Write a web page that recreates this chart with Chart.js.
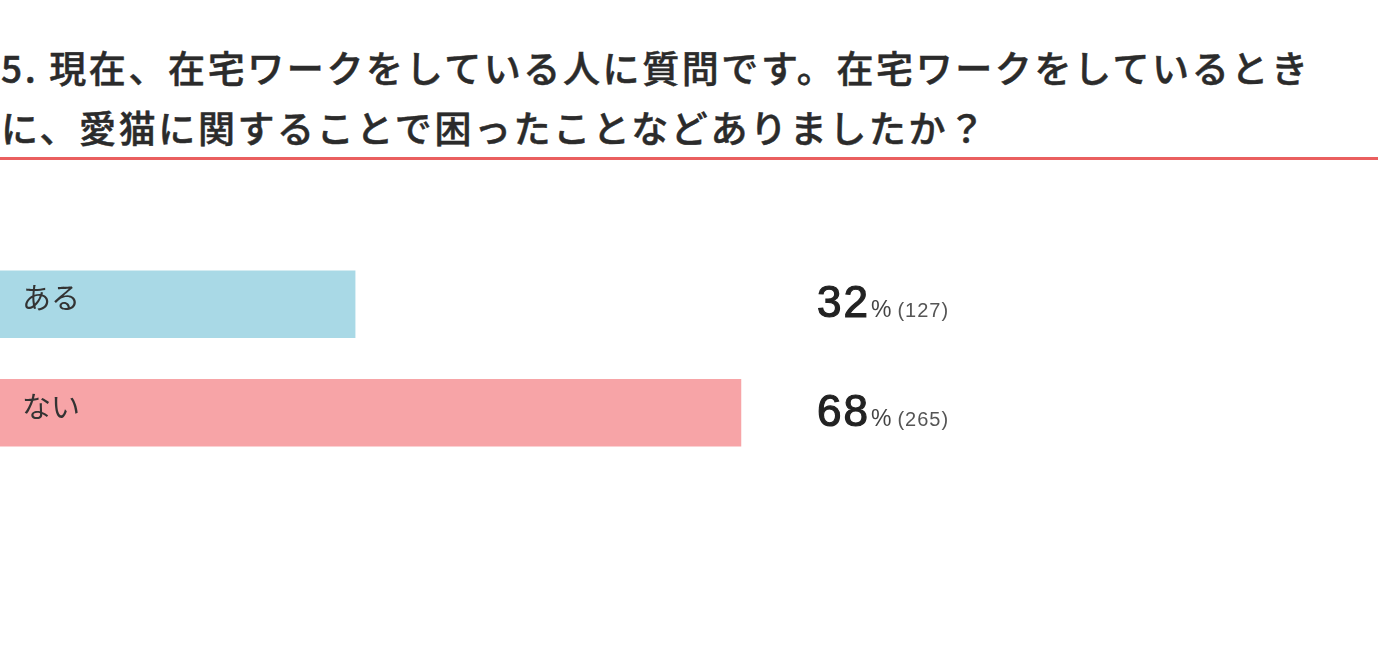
<!DOCTYPE html>
<html lang="ja">
<head>
<meta charset="utf-8">
<script src="https://cdn.jsdelivr.net/npm/chart.js@4"></script>
<style>
  html, body { margin: 0; padding: 0; background: #fff; }
  #wrap { position: relative; width: 1398px; height: 654px; overflow: hidden; }
  #title {
    position: absolute; left: 1px; top: 37px; width: 1395px;
    font-family: "Noto Sans CJK JP", "Noto Sans", sans-serif;
    font-weight: 500; font-size: 37px; line-height: 60px; color: #2b2b2b;
    letter-spacing: 2.6px; margin: 0; white-space: nowrap;
    -webkit-text-stroke: 0.5px #2b2b2b;
  }
  #rule { position: absolute; left: 0; top: 157px; width: 1378px; height: 3px; background: #ea5f5f; }
  #c { position: absolute; left: 0; top: 0; }
</style>
</head>
<body>
<div id="wrap">
  <h1 id="title">5. 現在、在宅ワークをしている人に質問です。在宅ワークをしているとき<br>に、愛猫に関することで困ったことなどありましたか？</h1>
  <div id="rule"></div>
  <canvas id="c" width="1398" height="654"></canvas>
</div>
<script>
const categories = ['ある', 'ない'];
const percents = [32, 68];
const counts = [127, 265];
const barColors = ['#a9d9e6', '#f7a4a7'];

const total = counts.reduce((a, b) => a + b, 0);
const shares = counts.map(c => c / total * 100);

const labelPlugin = {
  id: 'labels',
  afterDatasetsDraw(chart) {
    const ctx = chart.ctx;
    const meta = chart.getDatasetMeta(0);
    const left = chart.chartArea.left;
    ctx.save();
    meta.data.forEach((bar, i) => {
      const y = bar.y;
      ctx.textAlign = 'left';
      ctx.textBaseline = 'middle';
      ctx.fillStyle = '#333';
      ctx.font = '400 29px "Noto Sans CJK JP", sans-serif';
      ctx.fillText(categories[i], left + 22, y - 6);

      ctx.textBaseline = 'alphabetic';
      let x = left + 817;
      const base = y + 13;
      ctx.fillStyle = '#222';
      ctx.strokeStyle = '#222';
      ctx.lineWidth = 1.2;
      ctx.font = '400 44px "Liberation Sans", "Noto Sans", sans-serif';
      ctx.letterSpacing = '2px';
      const p = String(percents[i]);
      ctx.fillText(p, x, base);
      ctx.strokeText(p, x, base);
      x += ctx.measureText(p).width + 1;
      ctx.letterSpacing = '0px';
      ctx.fillStyle = '#444';
      ctx.font = '400 23px "Liberation Sans", "Noto Sans", sans-serif';
      ctx.fillText('%', x, base);
      x += ctx.measureText('%').width + 6;
      ctx.fillStyle = '#555';
      ctx.font = '400 20px "Liberation Sans", "Noto Sans", sans-serif';
      ctx.letterSpacing = '1px';
      ctx.fillText('(' + counts[i] + ')', x, base);
      ctx.letterSpacing = '0px';
    });
    ctx.restore();
  }
};

new Chart(document.getElementById('c'), {
  type: 'bar',
  data: {
    labels: categories,
    datasets: [{
      data: shares,
      backgroundColor: barColors,
      borderWidth: 0,
      barThickness: 67
    }]
  },
  options: {
    indexAxis: 'y',
    responsive: false,
    animation: false,
    devicePixelRatio: 1,
    layout: { padding: { left: 0, right: 302, top: 250, bottom: 187 } },
    plugins: { legend: { display: false }, tooltip: { enabled: false }, title: { display: false } },
    scales: {
      x: { display: false, min: 0, max: 100 },
      y: { display: false }
    }
  },
  plugins: [labelPlugin]
});
</script>
</body>
</html>
